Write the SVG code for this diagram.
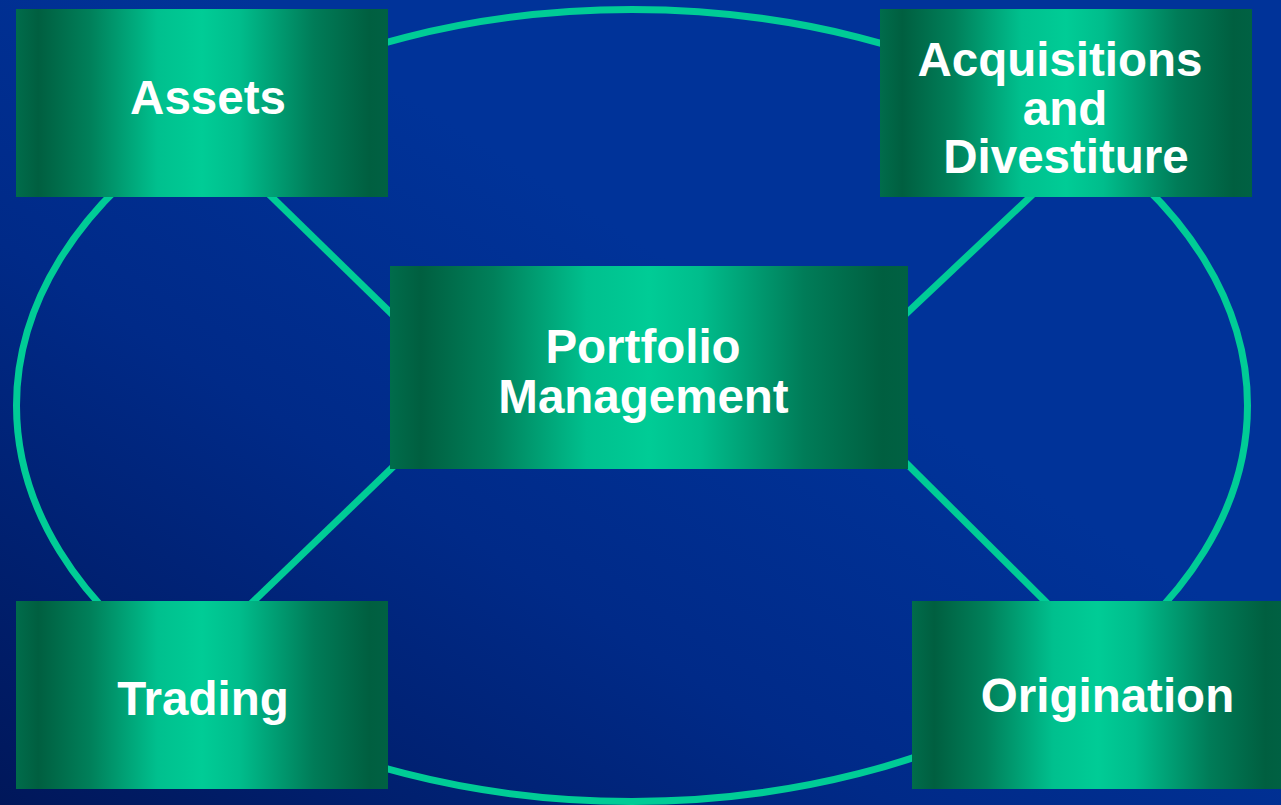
<svg xmlns="http://www.w3.org/2000/svg" width="1281" height="805" viewBox="0 0 1281 805">
  <defs>
    <linearGradient id="bg" x1="0" y1="1" x2="1" y2="0">
      <stop offset="0" stop-color="#00175a"/>
      <stop offset="0.35" stop-color="#002a88"/>
      <stop offset="0.6" stop-color="#003399"/>
      <stop offset="1" stop-color="#003399"/>
    </linearGradient>
    <linearGradient id="box" x1="0" y1="0" x2="1" y2="0">
      <stop offset="0" stop-color="#006c4b"/>
      <stop offset="0.06" stop-color="#005f40"/>
      <stop offset="0.2" stop-color="#00805a"/>
      <stop offset="0.38" stop-color="#00c08e"/>
      <stop offset="0.5" stop-color="#00cc96"/>
      <stop offset="0.6" stop-color="#00bd8c"/>
      <stop offset="0.8" stop-color="#007c58"/>
      <stop offset="0.95" stop-color="#005f40"/>
      <stop offset="1" stop-color="#006143"/>
    </linearGradient>
    <style>
      .node rect { fill: url(#box); }
      .node text { font-family: "Liberation Sans", Arial, sans-serif; font-weight: bold; font-size: 47.5px; fill: #ffffff; text-anchor: middle; }
      .conn { stroke: #00cc96; stroke-width: 7; fill: none; }
    </style>
  </defs>
  <rect x="0" y="0" width="1281" height="805" fill="url(#bg)"/>
  <g id="connectors">
    <ellipse class="conn" cx="632" cy="405.5" rx="615.5" ry="396"/>
    <line class="conn" x1="240" y1="166" x2="400" y2="322"/>
    <line class="conn" x1="410" y1="450.6" x2="230" y2="624"/>
    <line class="conn" x1="1060" y1="168.7" x2="895" y2="324.3"/>
    <line class="conn" x1="895" y1="452" x2="1070" y2="626"/>
  </g>
  <g id="assets" class="node">
    <rect x="16" y="9" width="372" height="188"/>
    <text x="208" y="114">Assets</text>
  </g>
  <g id="acquisitions" class="node">
    <rect x="880" y="9" width="372" height="188"/>
    <text x="1060" y="76">Acquisitions</text>
    <text x="1065" y="124.5">and</text>
    <text x="1066" y="173">Divestiture</text>
  </g>
  <g id="portfolio" class="node">
    <rect x="390" y="266" width="518" height="203"/>
    <text x="643" y="363">Portfolio</text>
    <text x="643.5" y="413">Management</text>
  </g>
  <g id="trading" class="node">
    <rect x="16" y="601" width="372" height="188"/>
    <text x="203" y="715">Trading</text>
  </g>
  <g id="origination" class="node">
    <rect x="912" y="601" width="372" height="188"/>
    <text x="1107.5" y="712">Origination</text>
  </g>
</svg>
